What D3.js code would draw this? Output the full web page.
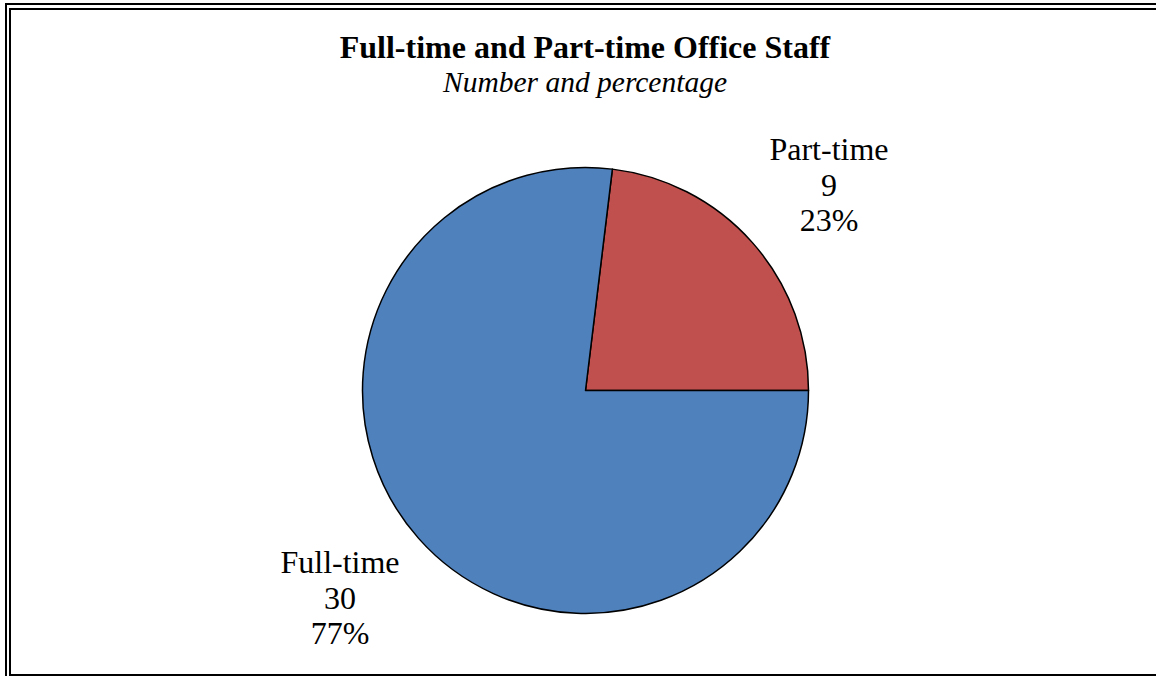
<!DOCTYPE html>
<html><head><meta charset="utf-8">
<script src="https://cdn.jsdelivr.net/npm/d3@7/dist/d3.min.js"></script>
<style>html,body{margin:0;padding:0;background:#fff;overflow:hidden}</style>
</head><body>
<svg id="c" width="1156" height="676"></svg>
<script>
const categories = ["Part-time", "Full-time"];
const values = [9, 30];
const colors = ["#C0504D", "#4F81BD"];
const title = "Full-time and Part-time Office Staff";
const subtitle = "Number and percentage";

const svg = d3.select("#c");
const W = 1156, H = 676;
const font = "'Liberation Serif','Times New Roman',serif";

// double border
svg.append("rect").attr("x", 6).attr("y", 4).attr("width", W + 20).attr("height", H + 20)
  .attr("fill", "none").attr("stroke", "#000").attr("stroke-width", 2);
svg.append("rect").attr("x", 10).attr("y", 9).attr("width", W + 20).attr("height", 666)
  .attr("fill", "none").attr("stroke", "#000").attr("stroke-width", 2);

svg.append("text").attr("x", 585).attr("y", 58).attr("text-anchor", "middle")
  .attr("font-family", font).attr("font-weight", "bold").attr("font-size", 32).text(title);
svg.append("text").attr("x", 585).attr("y", 92).attr("text-anchor", "middle")
  .attr("font-family", font).attr("font-style", "italic").attr("font-size", 29.5).text(subtitle);

const cx = 585.5, cy = 390.5, r = 223;
const total = d3.sum(values);
const offset = Math.PI / 2 - 2 * Math.PI * values[0] / total;
const pie = d3.pie().sort(null).value(d => d).startAngle(offset).endAngle(offset + 2 * Math.PI);
const arcs = pie(values);
const arc = d3.arc().innerRadius(0).outerRadius(r);

const g = svg.append("g").attr("transform", `translate(${cx},${cy})`);
g.selectAll("path").data(arcs).join("path")
  .attr("d", arc).attr("fill", (d, i) => colors[i])
  .attr("stroke", "#000").attr("stroke-width", 1.5).attr("stroke-linejoin", "round");

const labelPos = [[829, 160], [340, 573]];
arcs.forEach((a, i) => {
  const pct = Math.round(100 * values[i] / total) + "%";
  const lines = [categories[i], String(values[i]), pct];
  const t = svg.append("text").attr("text-anchor", "middle")
    .attr("font-family", font).attr("font-size", 32);
  lines.forEach((s, k) => {
    t.append("tspan").attr("x", labelPos[i][0]).attr("y", labelPos[i][1] + k * 35.5).text(s);
  });
});
</script>
</body></html>
